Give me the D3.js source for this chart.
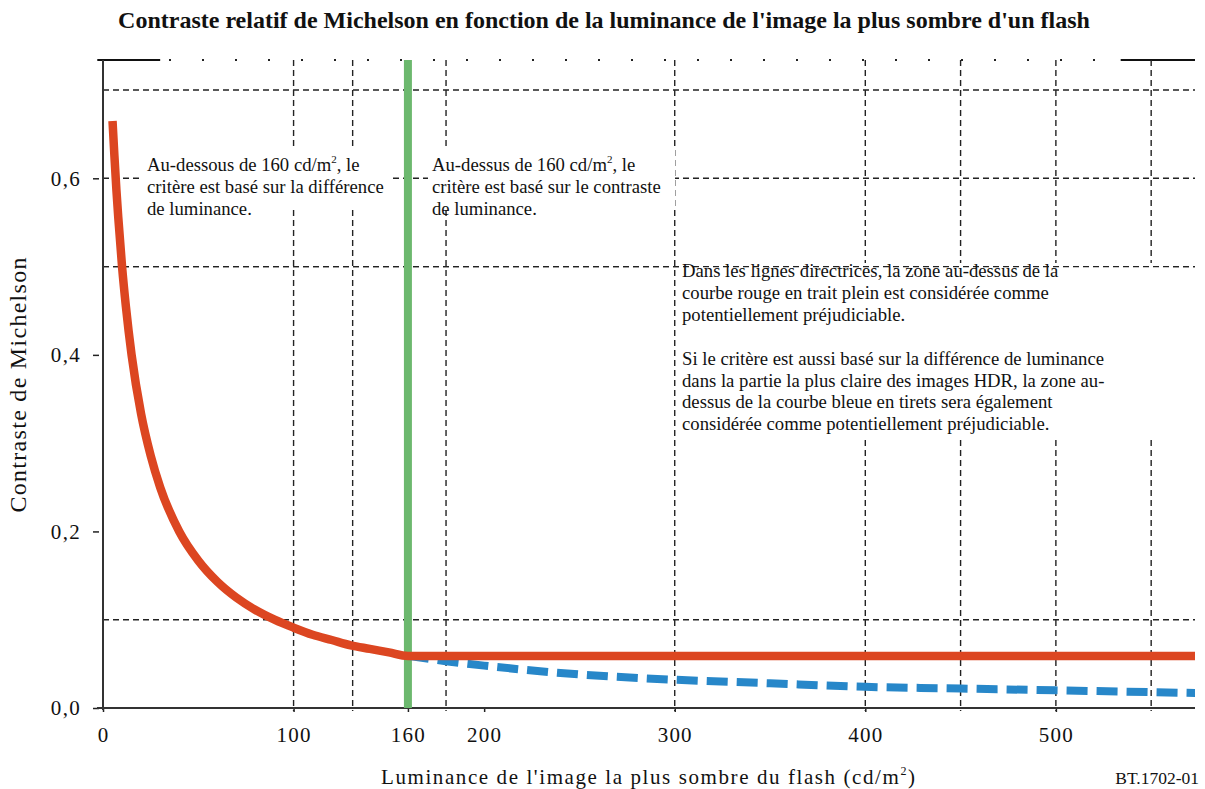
<!DOCTYPE html>
<html><head><meta charset="utf-8">
<script src="https://cdn.jsdelivr.net/npm/d3@7"></script>
<style>body{margin:0;background:#fff}svg{display:block}text{font-family:"Liberation Serif","Times New Roman",serif;fill:#111}</style>
</head><body>
<script>
// ---- data ----
const title = "Contraste relatif de Michelson en fonction de la luminance de l'image la plus sombre d'un flash";
const xTickValues = [0, 100, 160, 200, 300, 400, 500];
const yTickValues = [0, 0.2, 0.4, 0.6];
const yTickLabels = ["0,0", "0,2", "0,4", "0,6"];
const xGridValues = [100, 131, 180, 300, 400, 450, 500, 550];
const yGridValues = [0.1, 0.5, 0.6, 0.7];
const redLum = [5, 6, 7, 8, 10, 12, 15, 20, 25, 30, 40, 50, 60, 70, 80, 90, 100, 110, 120, 130, 140, 150, 160, 200, 300, 400, 500, 573];
const redContrast = [0.665, 0.625, 0.588, 0.556, 0.5, 0.455, 0.4, 0.333, 0.286, 0.25, 0.2, 0.167, 0.143, 0.125, 0.111, 0.1, 0.091, 0.083, 0.077, 0.071, 0.067, 0.063, 0.059, 0.059, 0.059, 0.059, 0.059, 0.059];
const blueLum = [160, 180, 200, 250, 300, 350, 400, 450, 500, 550, 573];
const blueContrast = [0.059, 0.053, 0.048, 0.038, 0.032, 0.028, 0.024, 0.022, 0.020, 0.018, 0.017];
const thresholdLum = 160;
const box1Lines = ["Au-dessous de 160 cd/m|2|, le", "critère est basé sur la différence", "de luminance."];
const box2Lines = ["Au-dessus de 160 cd/m|2|, le", "critère est basé sur le contraste", "de luminance."];
const box3Lines = ["Dans les lignes directrices, la zone au-dessus de la", "courbe rouge en trait plein est considérée comme", "potentiellement préjudiciable.", "", "Si le critère est aussi basé sur la différence de luminance", "dans la partie la plus claire des images HDR, la zone au-", "dessus de la courbe bleue en tirets sera également", "considérée comme potentiellement préjudiciable."];

// ---- layout ----
const W = 1205, H = 789;
const m = {left: 103, right: 10, top: 60, bottom: 81};
const x = d3.scaleLinear().domain([0, 573]).range([m.left, W - m.right]);
const y = d3.scaleLinear().domain([0, 0.734]).range([H - m.bottom, m.top]);
const x0 = x.range()[0], x1 = x.range()[1], y0 = y.range()[0], y1 = y.range()[1];

const svg = d3.select("body").append("svg").attr("width", W).attr("height", H);
svg.append("rect").attr("width", W).attr("height", H).attr("fill", "#fff");

// title: size font so the natural width matches the reference span
const tt = svg.append("text").attr("x", 604).attr("y", 28).attr("text-anchor", "middle")
  .attr("font-size", 18).attr("font-weight", "bold").text(title);
const tw = tt.node().getComputedTextLength();
tt.attr("font-size", 18 * 972 / tw);

const gridStyle = s => s.attr("stroke", "#222").attr("stroke-width", 1.4).attr("stroke-dasharray", "6,4").attr("fill", "none");

// top dotted border + solid fragments
svg.append("line").attr("x1", x0).attr("x2", x1).attr("y1", y1).attr("y2", y1)
  .attr("stroke", "#222").attr("stroke-width", 2).attr("stroke-dasharray", "2,31");
[[-3, 30], [534, 573]].forEach(seg => svg.append("line").attr("x1", x(seg[0])).attr("x2", x(seg[1]))
  .attr("y1", y1).attr("y2", y1).attr("stroke", "#111").attr("stroke-width", 2));

// grid
svg.append("g").selectAll("line").data(xGridValues).join("line")
  .attr("x1", d => x(d)).attr("x2", d => x(d)).attr("y1", y1).attr("y2", y0 + 3).call(gridStyle);
svg.append("g").selectAll("line").data(yGridValues).join("line")
  .attr("x1", x0).attr("x2", x1).attr("y1", d => y(d)).attr("y2", d => y(d)).call(gridStyle);

// text box backgrounds
svg.append("rect").attr("x", 143).attr("y", 148).attr("width", 250).attr("height", 58).attr("fill", "#fff");
svg.append("rect").attr("x", 428).attr("y", 148).attr("width", 247).attr("height", 59).attr("fill", "#fff");
svg.append("rect").attr("x", 679).attr("y", 263).attr("width", 493).attr("height", 177).attr("fill", "#fff");
// 0.5 gridline drawn over the third box
svg.append("line").attr("x1", x0).attr("x2", x1).attr("y1", y(0.5)).attr("y2", y(0.5)).call(gridStyle);

// text boxes
function box(lines, bx, by, lh) {
  const g = svg.append("g");
  lines.forEach((ln, i) => {
    const t = g.append("text").attr("x", bx).attr("y", by + i * lh).attr("font-size", 18.7);
    const parts = ln.split("|");
    parts.forEach((p, j) => {
      if (j % 2 === 1) t.append("tspan").attr("font-size", 11).attr("dy", -8).text(p);
      else t.append("tspan").attr("dy", j > 0 ? 8 : 0).text(p);
    });
  });
}
box(box1Lines, 147, 171, 22);
box(box2Lines, 432, 171, 22);
box(box3Lines, 682, 277, 21.9);

// axes
const xAxis = svg.append("g").attr("transform", `translate(0,${y0})`)
  .call(d3.axisBottom(x).tickValues(xTickValues).tickSize(4).tickFormat(d3.format("d")));
xAxis.select(".domain").remove();
xAxis.selectAll(".tick line").attr("stroke", "#222").attr("stroke-width", 1.5);
xAxis.selectAll(".tick text").attr("font-size", 21).attr("letter-spacing", 1.2)
  .attr("fill", "#111").attr("y", 0).attr("dy", 34);

const yAxis = svg.append("g").attr("transform", `translate(${x0},0)`)
  .call(d3.axisLeft(y).tickValues(yTickValues).tickSize(7).tickFormat((d, i) => yTickLabels[i]));
yAxis.select(".domain").remove();
yAxis.selectAll(".tick line").attr("stroke", "#222").attr("stroke-width", 1.5).attr("x1", -10).attr("x2", -4);
yAxis.selectAll(".tick text").attr("font-size", 21).attr("letter-spacing", 1.3)
  .attr("fill", "#111").attr("x", -22).attr("dy", "0.32em");

svg.append("line").attr("x1", x0).attr("x2", x0).attr("y1", y1).attr("y2", y0 + 2).attr("stroke", "#333").attr("stroke-width", 2);
svg.append("line").attr("x1", x0 - 6).attr("x2", x1).attr("y1", y0).attr("y2", y0).attr("stroke", "#333").attr("stroke-width", 2);

// threshold line
svg.append("line").attr("x1", x(thresholdLum)).attr("x2", x(thresholdLum)).attr("y1", y1).attr("y2", y0)
  .attr("stroke", "#6cb86e").attr("stroke-width", 8);

// curves
const line = d3.line().x(d => x(d[0])).y(d => y(d[1])).curve(d3.curveMonotoneX);
svg.append("path").datum(d3.zip(blueLum, blueContrast)).attr("d", line)
  .attr("fill", "none").attr("stroke", "#2787c9").attr("stroke-width", 8).attr("stroke-dasharray", "21,9");
svg.append("path").datum(d3.zip(redLum, redContrast)).attr("d", line)
  .attr("fill", "none").attr("stroke", "#dc4621").attr("stroke-width", 8.5);

// axis titles
const xl = svg.append("text").attr("x", 648).attr("y", 784).attr("text-anchor", "middle").attr("font-size", 21)
  .attr("textLength", 534).attr("lengthAdjust", "spacing");
xl.append("tspan").text("Luminance de l'image la plus sombre du flash  (cd/m");
xl.append("tspan").attr("font-size", 12).attr("dy", -9).text("2");
xl.append("tspan").attr("dy", 9).text(")");

svg.append("text").attr("transform", "translate(26,385) rotate(-90)").attr("text-anchor", "middle")
  .attr("font-size", 24).attr("textLength", 255).attr("lengthAdjust", "spacing").text("Contraste de Michelson");

svg.append("text").attr("x", 1199).attr("y", 784).attr("text-anchor", "end").attr("font-size", 17.5).text("BT.1702-01");
</script>
</body></html>
